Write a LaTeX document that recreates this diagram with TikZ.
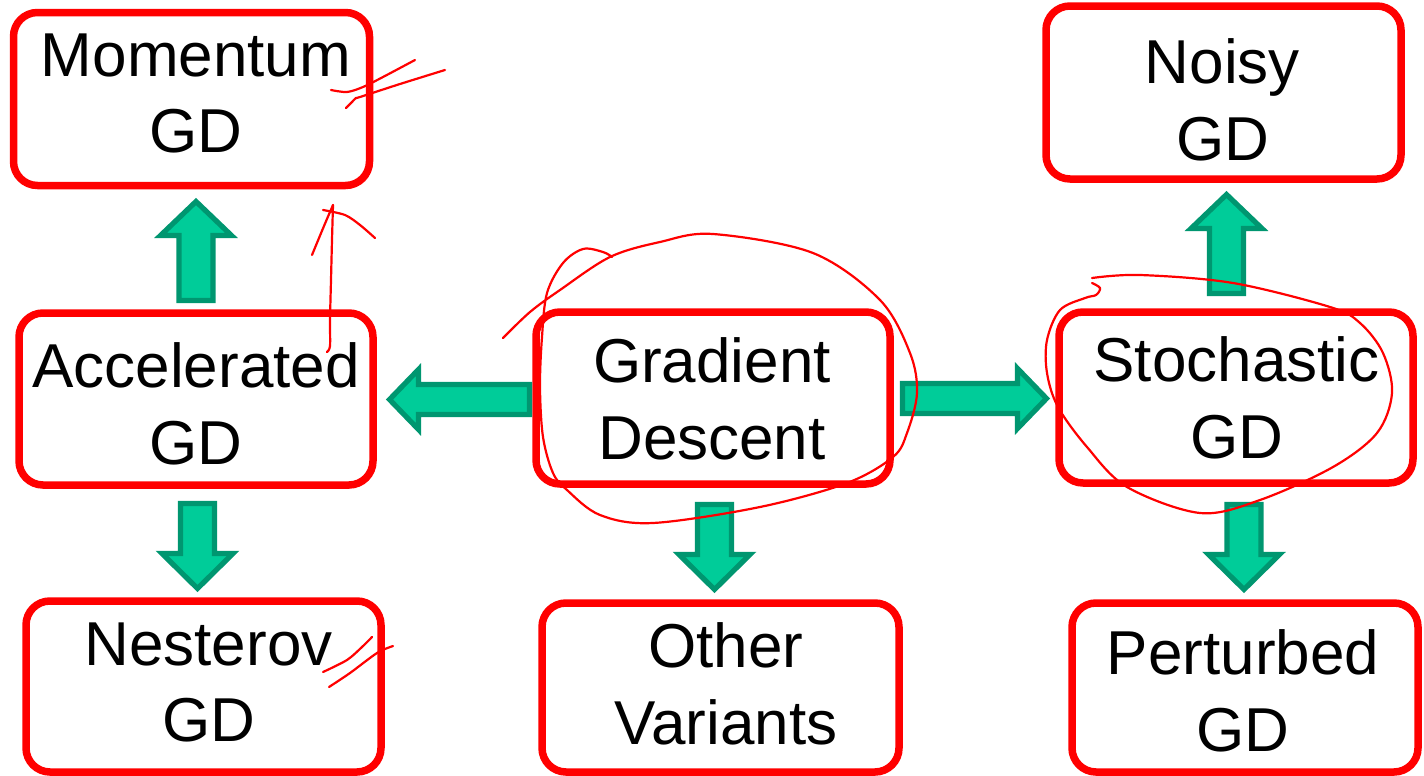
\documentclass[tikz,border=0pt]{standalone}
\usepackage{fontspec}
\setmainfont{Liberation Sans}
\definecolor{boxred}{RGB}{255,0,0}
\definecolor{arrfill}{RGB}{0,204,153}
\definecolor{arrline}{RGB}{0,150,112}
\tikzset{
  box/.style={draw=boxred, line width=3.75pt, rounded corners=12pt, inner sep=0pt},
  txt/.style={align=center, font=\fontsize{31}{38.25}\selectfont, inner sep=0pt},
  blockarrow/.style={draw=arrline, fill=arrfill, line width=2.6pt, line join=miter},
  hand/.style={draw=boxred, line width=1.1pt, line cap=round, line join=round},
}
% #1 tail point, #2 angle, #3 length, #4 head length, #5 head half width, #6 shaft half width
\newcommand\blockarr[6]{%
  \begin{scope}[shift={#1}, rotate=#2]
    \draw[blockarrow] (0,-#6) -- (#3-#4,-#6) -- (#3-#4,-#5) -- (#3,0) -- (#3-#4,#5) -- (#3-#4,#6) -- (0,#6) -- cycle;
  \end{scope}}
\begin{document}
\begin{tikzpicture}[x=0.5pt, y=-0.5pt]
\useasboundingbox (0,0) rectangle (1424,776);
% boxes
\node[box, minimum width=178pt, minimum height=86.5pt] (mom) at (191.5,99) {};
\node[box, minimum width=177.5pt, minimum height=86.5pt] (noi) at (1223.5,92.5) {};
\node[box, minimum width=177pt, minimum height=86pt] (acc) at (196,399) {};
\node[box, minimum width=177pt, minimum height=86pt] (gd) at (713,398) {};
\node[box, minimum width=177pt, minimum height=85.5pt] (sto) at (1236,397.5) {};
\node[box, minimum width=177.5pt, minimum height=85.5pt] (nes) at (203.5,686.5) {};
\node[box, minimum width=178.5pt, minimum height=84.5pt] (oth) at (720.5,687.5) {};
\node[box, minimum width=173pt, minimum height=84.5pt] (per) at (1245,687.5) {};
% texts
\node[txt] (tmom) at (196,93.5) {Momentum\\GD};
\node[txt] (tnoi) at (1222.5,100) {Noisy\\GD};
\node[txt] (tacc) at (196,404) {Accelerated\\GD};
\node[txt] (tgd) at (712,399) {Gradient\\Descent};
\node[txt] (tsto) at (1236.5,398) {Stochastic\\GD};
\node[txt] (tnes) at (208.5,682.5) {Nesterov\\GD};
\node[txt] (toth) at (726,684) {Other\\Variants};
\node[txt] (tper) at (1243,691) {Perturbed\\GD};
% block arrows
\blockarr{(196,300.5)}{90}{99}{34}{35.5}{17}
\blockarr{(197.5,503.5)}{-90}{85}{35}{35.5}{17}
\blockarr{(714.5,504.5)}{-90}{85}{35}{35.5}{17}
\blockarr{(1226.5,293.5)}{90}{99}{34}{35.5}{17}
\blockarr{(1244,504.5)}{-90}{85}{35}{35.5}{17}
\blockarr{(529.5,399.5)}{180}{140}{29}{30}{15}
\blockarr{(902.5,398.5)}{0}{144}{29}{30}{15}
% handwritten annotations
\draw[hand] plot[smooth, tension=0.55] coordinates {(503,338) (530,312) (560,290) (610,257) (660,242) (713,234) (813,253) (880,300) (910,353) (917,393) (907,433) (893,457) (847,483) (760,507) (653,523) (600,515) (567,490) (553,473) (543,437) (540,387) (542,337) (547,293) (563,263) (583,249) (603,252) (612,257)};
\draw[hand] plot[smooth, tension=0.55] coordinates {(1092,283) (1100,288) (1096,295) (1085,298) (1060,310) (1047,340) (1047,373) (1058,407) (1087,447) (1127,487) (1200,513) (1260,500) (1333,467) (1377,433) (1392,393) (1383,353) (1360,323) (1330,307) (1233,283) (1140,275) (1092,278)};
% arrow from Accelerated to Momentum
\draw[hand] plot[smooth, tension=0.5] coordinates {(327,352) (330,346) (330,320) (331,280) (332,240) (333,205)};
\draw[hand] plot[smooth, tension=0.5] coordinates {(333,205) (324,226) (312,255)};
\draw[hand] plot[smooth, tension=0.5] coordinates {(323,210) (345,215) (360,225) (375,238)};
% scribbles at Momentum
\draw[hand] plot[smooth, tension=0.5] coordinates {(331,90) (347,92) (363,87) (383,77) (415,60)};
\draw[hand] plot[smooth, tension=0.5] coordinates {(346,108) (352,102) (356,98) (360,97) (400,84) (445,70)};
% scribbles at Nesterov
\draw[hand] plot[smooth, tension=0.5] coordinates {(323,672) (347,660) (362,647) (372,637)};
\draw[hand] plot[smooth, tension=0.5] coordinates {(329,687) (350,673) (377,653) (393,646)};
\end{tikzpicture}
\end{document}
